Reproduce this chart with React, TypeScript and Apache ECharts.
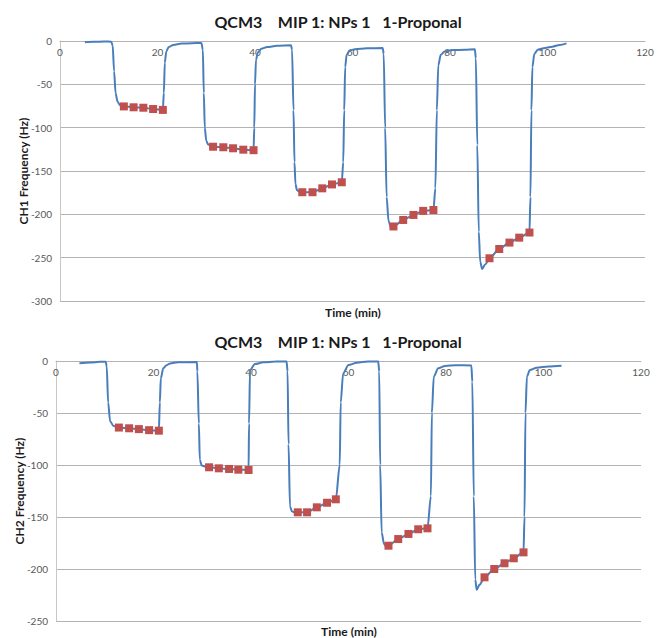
import React, { useEffect, useRef } from "react";
import * as echarts from "echarts";

const chartTitle = "QCM3\u00A0\u00A0\u00A0\u00A0MIP 1: NPs 1\u00A0\u00A0\u00A01-Proponal";
const xTitle = "Time (min)";
const ch1Title = "CH1 Frequency (Hz)";
const ch2Title = "CH2 Frequency (Hz)";

// CH1 trace (time min, frequency Hz), excluding the marked points
const ch1Line: [number, number][] = [
  [5.1, -1.5], [7, -1], [9, -0.5], [10.5, -0.8], [10.8, -5], [11.1, -35], [11.4, -60], [11.8, -70], [12.3, -74],
  [21.3, -60], [21.5, -25], [21.8, -12], [22.3, -7], [23.2, -4.5], [25, -3], [27, -2.5], [29, -2.3],
  [29.3, -10], [29.5, -60], [29.7, -100], [30, -115], [30.4, -119.5], [31, -121],
  [39.85, -100], [40.0, -50], [40.2, -22], [40.6, -13], [41.3, -9], [42.5, -7], [44.5, -5.5], [47.4, -5],
  [47.6, -10], [47.9, -80], [48.1, -140], [48.3, -165], [48.6, -172], [49.1, -174],
  [58.1, -140], [58.3, -80], [58.5, -30], [58.8, -16], [59.4, -11], [60.5, -9.5], [63, -8.5], [66.2, -8],
  [66.4, -15], [66.7, -100], [67, -180], [67.4, -208], [67.9, -215.5],
  [77.0, -170], [77.3, -80], [77.6, -28], [78.1, -16], [78.9, -12], [80.5, -10.5], [83, -10], [85.1, -9.5],
  [85.3, -20], [85.6, -120], [85.9, -220], [86.2, -255], [86.6, -263], [87.2, -258],
  [96.5, -180], [96.7, -80], [96.9, -30], [97.3, -15], [98, -10], [99.5, -8], [101, -6.5], [102.5, -4.5], [103.9, -2.7],
];

// CH1 marked points
const ch1Marks: [number, number][] = [
  [13.1, -75.5], [15.1, -76.5], [17.1, -77], [19.1, -78.5], [21.1, -79.5],
  [31.4, -122], [33.5, -122.6], [35.5, -123.8], [37.6, -125.4], [39.7, -126],
  [49.7, -174.5], [51.8, -174.5], [53.8, -170], [55.8, -165.5], [57.8, -163],
  [68.4, -214], [70.4, -206.5], [72.5, -200.7], [74.5, -196], [76.6, -195],
  [88.1, -250.7], [90.1, -240], [92.2, -232.6], [94.2, -226.9], [96.3, -221],
];

// CH2 trace
const ch2Line: [number, number][] = [
  [4.8, -2.2], [7, -1.5], [9, -0.8], [10.2, -0.8], [10.4, -5], [10.7, -40], [11.1, -58], [11.8, -62.5],
  [21.3, -40], [21.5, -16.7], [22.0, -7], [22.7, -4], [23.4, -2.3], [25, -1.2], [28.9, -1],
  [29.0, -10], [29.3, -60], [29.5, -95], [29.9, -100.5], [30.6, -101.5],
  [39.6, -60], [39.8, -8.7], [40.8, -2.9], [42.5, -1.3], [45, -0.6], [47.3, -0.5],
  [47.5, -10], [47.7, -80], [48.0, -140], [48.4, -144.5], [48.9, -145.5],
  [58.2, -100], [58.4, -40], [58.9, -11.9], [60.0, -3.8], [61.7, -1.6], [64, -0.5], [66.1, -0.5],
  [66.3, -10], [66.5, -100], [66.8, -165], [67.3, -176], [67.7, -178],
  [76.9, -130], [77.1, -50], [77.5, -15], [78.4, -7], [79.8, -4.8], [82, -4], [85.2, -4.3],
  [85.4, -20], [85.7, -130], [86.0, -210], [86.3, -220], [86.9, -215],
  [96.1, -150], [96.3, -50], [96.6, -15], [97.2, -8.7], [98.6, -6.4], [101, -5.2], [103.7, -4.5],
];

// CH2 marked points
const ch2Marks: [number, number][] = [
  [12.9, -64], [15.0, -64.7], [17.0, -65.5], [19.1, -66.5], [21.1, -67],
  [31.4, -102.2], [33.4, -103.2], [35.5, -103.8], [37.4, -104.5], [39.5, -104.8],
  [49.6, -145.5], [51.5, -145.5], [53.5, -140.7], [55.6, -136.3], [57.4, -133],
  [68.2, -177.6], [70.2, -171.2], [72.3, -166.3], [74.3, -161.8], [76.2, -160.9],
  [87.9, -208], [89.9, -200], [92.0, -194.5], [93.9, -189.7], [95.9, -184],
];

const xTicks = { min: 0, max: 120, interval: 20 };
const ch1Range = { min: -300, max: 0, interval: 50 };
const ch2Range = { min: -250, max: 0, interval: 50 };

const merge = (a: [number, number][], b: [number, number][]) =>
  [...a, ...b].sort((p, q) => p[0] - q[0]);

const FONT = "Lato, 'Liberation Sans', sans-serif";
const BLUE = "#4A7EBB";
const RED = "#C0504D";
const GRID = "#b3b3b3";

export default function App() {
  const ref = useRef<HTMLDivElement>(null);
  useEffect(() => {
    if (!ref.current) return;
    const chart = echarts.init(ref.current, undefined, { renderer: "svg" });
    const grids = [
      { left: 60, top: 41, width: 585, height: 260 },
      { left: 56, top: 361, width: 585, height: 260 },
    ];
    const xAx = (i: number) => ({
      type: "value",
      gridIndex: i,
      position: "top",
      ...xTicks,
      axisLine: { show: true, lineStyle: { color: GRID } },
      axisTick: { show: false },
      splitLine: { show: false },
      axisLabel: { inside: true, margin: 6, color: "#595959", fontSize: 10, fontFamily: FONT },
    });
    const yAx = (i: number, r: any) => ({
      type: "value",
      gridIndex: i,
      ...r,
      axisLine: { show: true, lineStyle: { color: "#c8c8c8" } },
      axisTick: { show: false },
      splitLine: { show: true, lineStyle: { color: GRID } },
      axisLabel: { margin: 8, color: "#595959", fontSize: 10, fontFamily: FONT },
    });
    const lineS = (i: number, d: [number, number][]) => ({
      type: "line",
      xAxisIndex: i,
      yAxisIndex: i,
      data: d,
      showSymbol: false,
      smooth: 0.3,
      smoothMonotone: "x",
      lineStyle: { color: BLUE, width: 2 },
      z: 2,
    });
    const markS = (i: number, d: [number, number][]) => ({
      type: "scatter",
      xAxisIndex: i,
      yAxisIndex: i,
      data: d,
      symbol: "rect",
      symbolSize: 8,
      itemStyle: { color: RED, opacity: 1, borderWidth: 0 },
      z: 10,
    });
    const txt = (x: number, y: number, text: string, rot = 0) => ({
      type: "text",
      x,
      y,
      rotation: rot,
      style: {
        text,
        align: "center",
        verticalAlign: "middle",
        font: `bold 12px ${FONT}`,
        fill: "#1a1a1a",
      },
    });
    chart.setOption({
      animation: false,
      backgroundColor: "#ffffff",
      title: [
        { text: chartTitle, left: 333, top: 8, textAlign: "center", textStyle: { fontFamily: FONT, fontWeight: "bold", fontSize: 16, color: "#1a1a1a" } },
        { text: chartTitle, left: 333, top: 328, textAlign: "center", textStyle: { fontFamily: FONT, fontWeight: "bold", fontSize: 16, color: "#1a1a1a" } },
      ],
      grid: grids,
      xAxis: [xAx(0), xAx(1)],
      yAxis: [yAx(0, ch1Range), yAx(1, ch2Range)],
      series: [
        lineS(0, merge(ch1Line, ch1Marks)),
        markS(0, ch1Marks),
        lineS(1, merge(ch2Line, ch2Marks)),
        markS(1, ch2Marks),
      ],
      graphic: [
        txt(353, 312, xTitle),
        txt(349, 631, xTitle),
        txt(23, 171, ch1Title, Math.PI / 2),
        txt(19, 491, ch2Title, Math.PI / 2),
      ],
    });
    return () => chart.dispose();
  }, []);
  return (
    <div
      ref={ref}
      style={{ position: "fixed", left: 0, top: 0, width: 659, height: 638, background: "#fff" }}
    />
  );
}
